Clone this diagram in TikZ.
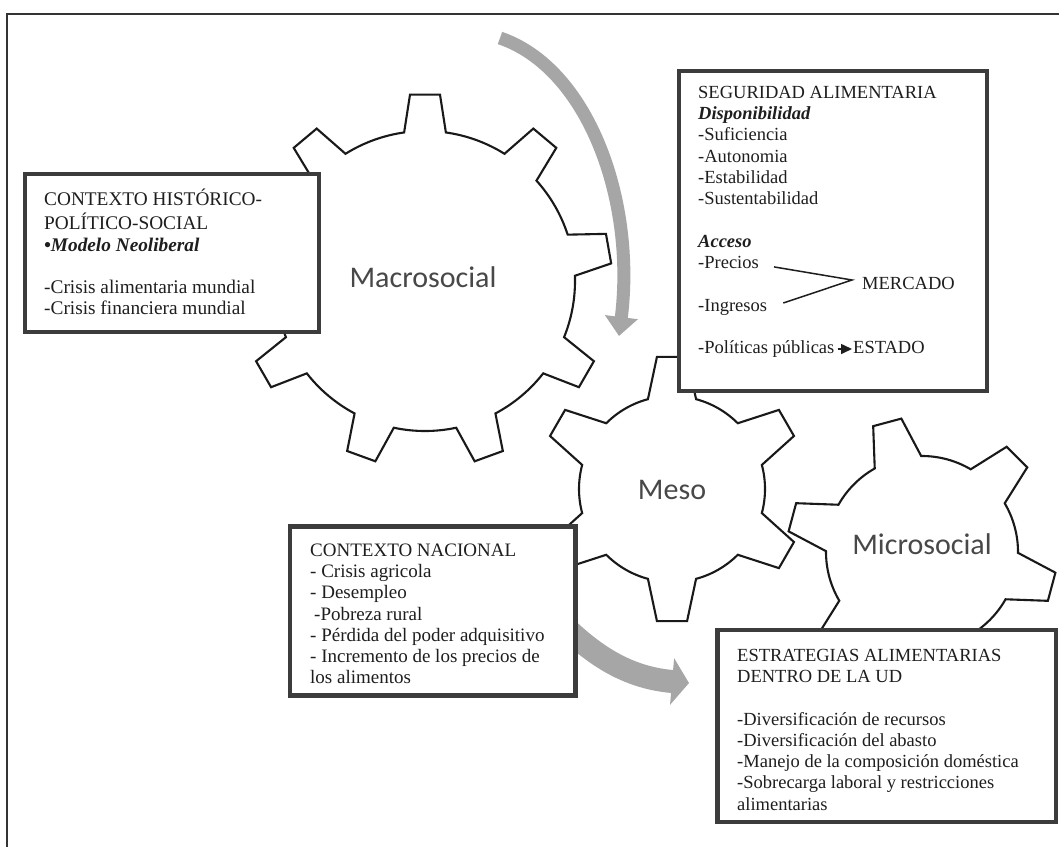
\documentclass[tikz,border=0pt]{standalone}
\usepackage{fontspec}
\setmainfont{Liberation Serif}
\newfontfamily\gearfont{Carlito}
\usetikzlibrary{arrows.meta}
\definecolor{boxline}{HTML}{3C3C3C}
\definecolor{arrowgray}{HTML}{A6A6A6}
\definecolor{txtcol}{HTML}{1E1E1E}
\definecolor{geartxt}{HTML}{484848}
\definecolor{framecol}{HTML}{333333}
\newcommand\mygear[8]{%
  \begin{scope}[shift={(#1,#2)}]
  \pgfmathsetmacro\gstep{360/#3}
  \draw[gearline] ({#4-#7}:#5)
    \foreach \k in {1,...,#3} {
      -- ({#4+(\k-1)*\gstep-#7}:#5)
      -- ({#4+(\k-1)*\gstep-#8}:#6)
      -- ({#4+(\k-1)*\gstep+#8}:#6)
      -- ({#4+(\k-1)*\gstep+#7}:#5)
      arc[start angle={#4+(\k-1)*\gstep+#7}, end angle={#4+\k*\gstep-#7}, radius=#5]
    } -- cycle;
  \end{scope}}
\begin{document}
\begin{tikzpicture}[x=1pt,y=-1pt,
  gearline/.style={draw=black!90, line width=2.1pt, fill=white, line join=miter},
  gearlabel/.style={font=\gearfont\fontsize{30}{36}\selectfont, text=geartxt, inner sep=0pt},
  stdbox/.style={draw=boxline, line width=4.5pt, fill=white},
  txtnode/.style={font=\fontsize{18.5}{21.3}\selectfont, text=txtcol, align=left, anchor=north west, inner sep=0pt},
  bigtxt/.style={font=\fontsize{19.3}{21.3}\selectfont},
  midtxt/.style={font=\fontsize{19}{21.3}\selectfont},
  txtbase/.style={font=\fontsize{18.5}{21.3}\selectfont, text=txtcol, anchor=base west, inner sep=0pt},
  grayarrow/.style={draw=arrowgray, color=arrowgray},
  thinline/.style={draw=txtcol, line width=1.5pt},
  framestyle/.style={draw=framecol, line width=2pt}]
\useasboundingbox (0,0) rectangle (1059,847);
\fill[white] (0,0) rectangle (1059,847);
% outer frame
\draw[framestyle] (7,847) -- (7,14) -- (1059,14);
% gears
\mygear{425}{281}{9}{30}{150}{187}{8}{4.6}
\mygear{672}{489}{6}{30}{93}{133}{15}{6.5}
\mygear{922}{552}{6}{15}{96}{135}{14.5}{6.2}
\node[gearlabel] (macro) at (423,277) {Macrosocial};
\node[gearlabel] (meso) at (672,490) {Meso};
\node[gearlabel] (micro) at (922,544) {Microsocial};
% gray arrows
\coordinate (arcS) at (500,38);
\coordinate (arcE) at (619,336);
\draw[grayarrow, line width=13pt, -{Triangle[width=32pt,length=19pt]}] (arcS) .. controls (588,68) and (636,200) .. (arcE);
\coordinate (lowS) at (560,622);
\coordinate (lowE) at (689,683);
\draw[grayarrow, line width=23pt, -{Triangle[width=46pt,length=17pt]}] (lowS) .. controls (598,660) and (632,678) .. (lowE);
% boxes
\draw[stdbox] (25,174) rectangle (319,332);
\draw[stdbox] (679,71) rectangle (987,391);
\draw[stdbox] (290,526.5) rectangle (575.5,695.5);
\draw[stdbox] (717.5,630) rectangle (1056,822);
% box texts
\node[txtnode, bigtxt] (hist) at (44,189) {\strut CONTEXTO HISTÓRICO-\\POLÍTICO-SOCIAL\\\textbf{\textit{•Modelo Neoliberal}}\\\mbox{}\\-Crisis alimentaria mundial\\-Crisis financiera mundial};
\node[txtnode] (seg) at (698,83.1) {\strut SEGURIDAD ALIMENTARIA\\\textbf{\textit{Disponibilidad}}\\-Suficiencia\\-Autonomia\\-Estabilidad\\-Sustentabilidad\\\mbox{}\\\textbf{\textit{Acceso}}};
\node[txtbase] (precios) at (698,268.4) {-Precios};
\node[txtbase] (ingresos) at (698,311) {-Ingresos};
\node[txtbase] (mercado) at (862,289.7) {MERCADO};
\node[txtbase] (politicas) at (698,353.6) {-Políticas públicas};
\node[txtbase] (estado) at (853,353.6) {ESTADO};
\coordinate (apex) at ([xshift=-10pt,yshift=9.7pt]mercado.base west);
\draw[thinline] ([xshift=15pt,yshift=1.5pt]precios.base east) -- (apex) -- ([xshift=16pt,yshift=8pt]ingresos.base east);
\draw[thinline, -{Triangle[width=10pt,length=11pt]}] ([xshift=3pt,yshift=4.6pt]politicas.base east) -- ([xshift=-1pt,yshift=4.6pt]estado.base west);
\node[txtnode, midtxt] (nac) at (310,541) {\strut CONTEXTO NACIONAL\\- Crisis agricola\\- Desempleo\\\hspace{4pt}-Pobreza rural\\- Pérdida del poder adquisitivo\\- Incremento de los precios de\\los alimentos};
\node[txtnode] (estr) at (737,646) {\strut ESTRATEGIAS ALIMENTARIAS\\DENTRO DE LA UD\\\mbox{}\\-Diversificación de recursos\\-Diversificación del abasto\\-Manejo de la composición doméstica\\-Sobrecarga laboral y restricciones\\alimentarias};
\end{tikzpicture}
\end{document}
